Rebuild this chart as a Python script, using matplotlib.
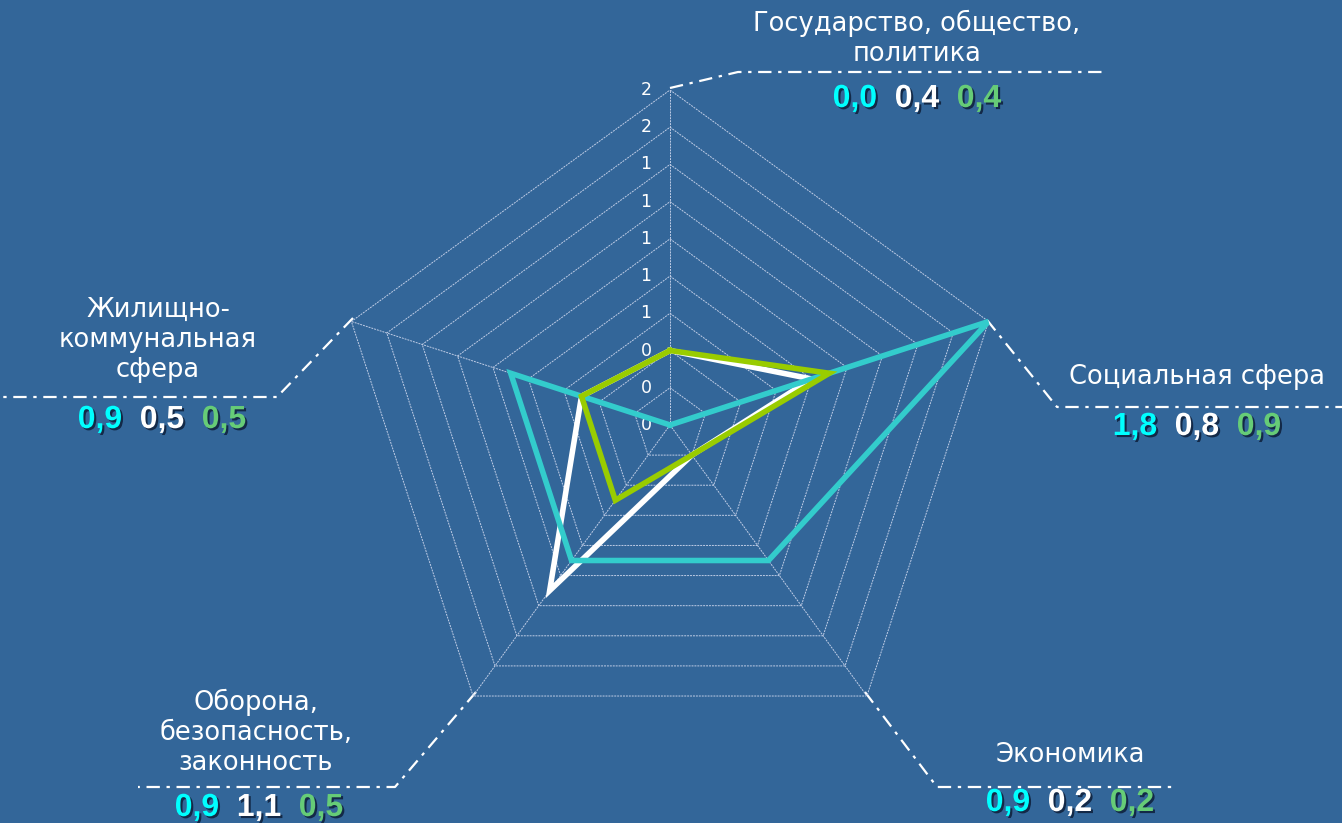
import numpy as np
import matplotlib
matplotlib.use("Agg")
import matplotlib.pyplot as plt
import matplotlib.patheffects as pe

# data
categories = ["Государство, общество,\nполитика", "Социальная сфера", "Экономика",
              "Оборона,\nбезопасность,\nзаконность", "Жилищно-\nкоммунальная\nсфера"]
series_cyan = [0.0, 1.8, 0.9, 0.9, 0.9]
series_white = [0.4, 0.8, 0.2, 1.1, 0.5]
series_green = [0.4, 0.9, 0.2, 0.5, 0.5]
value_labels = [["0,0", "0,4", "0,4"], ["1,8", "0,8", "0,9"], ["0,9", "0,2", "0,2"],
                ["0,9", "1,1", "0,5"], ["0,9", "0,5", "0,5"]]
ticks = np.arange(0.0, 1.81, 0.2)

BG = "#336699"
W, H = 1342, 823
fig = plt.figure(figsize=(W / 100, H / 100), dpi=100, facecolor=BG)

# overlay axes in pixel units for labels and leader lines
ov = fig.add_axes([0, 0, 1, 1])
ov.set_xlim(0, W)
ov.set_ylim(H, 0)
ov.axis("off")
ov.set_facecolor(BG)

cx, cy, R = 670, 425, 335
ax = fig.add_axes([(cx - R) / W, (H - cy - R) / H, 2 * R / W, 2 * R / H], projection="polar")
ax.set_theta_offset(np.pi / 2)
ax.set_theta_direction(-1)
ax.set_ylim(0, 1.8)
ax.patch.set_visible(False)
ax.grid(False)
ax.spines["polar"].set_visible(False)
ax.set_xticks([])
ax.set_yticks([])

n = len(categories)
theta = np.arange(n) * 2 * np.pi / n
theta_c = np.append(theta, theta[0])

# grid rings and spokes
for r in ticks[1:]:
    ax.plot(theta_c, [r] * (n + 1), color="#c0cde6", lw=0.7, ls=(0, (2, 1)), zorder=1)
for t in theta:
    ax.plot([t, t], [0, 1.8], color="#c0cde6", lw=0.7, ls=(0, (2, 1)), zorder=1)

# tick labels (rounded like the original)
for r in ticks:
    ax.annotate("%d" % round(r + 1e-9), (0, r), xytext=(-24, 0), textcoords="offset pixels",
                ha="center", va="center", color="white", fontsize=12.5)

# series
for vals, col in [(series_white, "white"), (series_cyan, "#33cccc"), (series_green, "#99cc00")]:
    ax.plot(theta_c, vals + vals[:1], color=col, lw=4, zorder=3, solid_joinstyle="miter")

# leader lines (pixel coords)
leaders = [
    [(670, 88), (738, 72), (1105, 72)],
    [(987, 320), (1057, 407), (1342, 407)],
    [(865, 692), (937, 787), (1177, 787)],
    [(476, 692), (395, 787), (138, 787)],
    [(353, 318), (277, 397), (0, 397)],
]
for pts in leaders:
    xs, ys = zip(*pts)
    ov.plot(xs, ys, color="white", lw=1.6, ls=(0, (6, 3, 1.5, 3)))

# category labels
label_pos = [(917, 38), (1197, 377), (1070, 755), (256, 732), (158, 340)]
for txt, (x, y) in zip(categories, label_pos):
    ov.text(x, y, txt, ha="center", va="center", color="white", fontsize=18.5,
            linespacing=1.2)

# value labels
num_pos = [(99, 855), (427, 1135), (803, 1008), (808, 197), (420, 100)]
num_cols = ["#00ffff", "white", "#66cc77"]
shadow = [pe.withSimplePatchShadow(offset=(1.5, -1.5), shadow_rgbFace="#0b1a33", alpha=0.8)]
for labs, (y, x0) in zip(value_labels, num_pos):
    for k, (lab, col) in enumerate(zip(labs, num_cols)):
        ov.text(x0 + 62 * k, y, lab, ha="center", va="center", color=col,
                fontsize=23, fontweight="bold", family="Liberation Sans",
                path_effects=shadow)

fig.savefig("out.png", dpi=100, facecolor=BG)
